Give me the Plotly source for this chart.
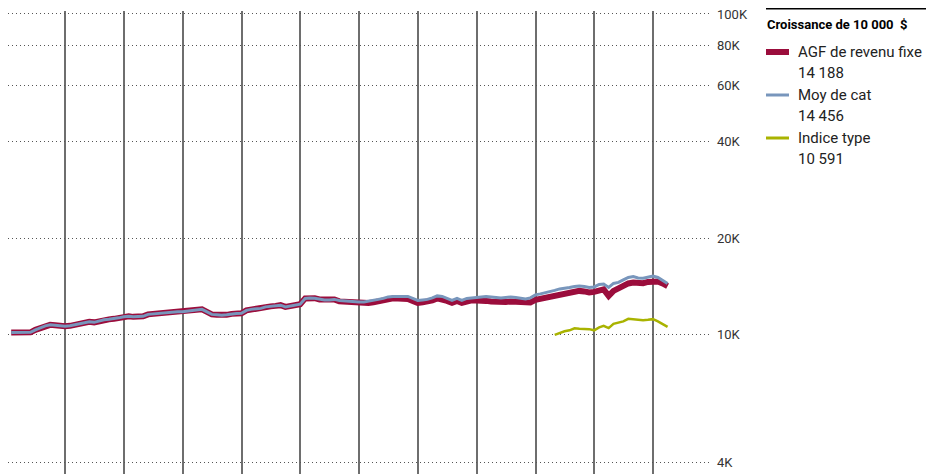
import plotly.graph_objects as go
import pandas as pd

# Fin de mois, janv. 2013 -> mars 2024
dates = pd.date_range("2013-01-31", periods=135, freq="ME")

agf = [
    10166, 10166, 10144, 10144, 10181, 10365, 10514, 10666, 10742, 10704,
    10628, 10628, 10666, 10742, 10820, 10897, 10976, 10936, 11055, 11134,
    11174, 11214, 11295, 11376, 11417, 11376, 11376, 11417, 11581, 11623,
    11665, 11707, 11749, 11749, 11791, 11791, 11833, 11876, 11918, 12004,
    11791, 11581, 11540, 11499, 11540, 11623, 11648, 11665, 11918, 12004,
    12047, 12090, 12221, 12265, 12309, 12371, 12221, 12309, 12397, 12459,
    12987, 13034, 13006, 12895, 12849, 12849, 12895, 12711, 12666, 12621,
    12576, 12576, 12576, 12576, 12621, 12711, 12803, 12941, 12987, 12987,
    12987, 12941, 12757, 12576, 12621, 12666, 12803, 12987, 12941, 12757,
    12576, 12757, 12576, 12757, 12803, 12803, 12711, 12757, 12711, 12666,
    12621, 12666, 12711, 12666, 12621, 12531, 12621, 12849, 12941, 13034,
    13128, 13270, 13413, 13461, 13558, 13656, 13705, 13656, 13558, 13607,
    13803, 13852, 13222, 13705, 13952, 14204, 14461, 14544, 14513, 14482,
    14617, 14722, 14670, 14461, 14188,
]

moy_cat = [
    10166, 10166, 10144, 10144, 10181, 10365, 10514, 10666, 10742, 10704,
    10628, 10628, 10666, 10742, 10820, 10897, 10976, 10936, 11055, 11134,
    11174, 11214, 11295, 11376, 11417, 11376, 11376, 11417, 11581, 11623,
    11665, 11707, 11749, 11749, 11791, 11791, 11833, 11876, 11918, 12004,
    11791, 11581, 11540, 11499, 11540, 11623, 11648, 11665, 11918, 12004,
    12047, 12090, 12221, 12265, 12309, 12371, 12221, 12309, 12397, 12459,
    12987, 13034, 13006, 12895, 12849, 12849, 12895, 12803, 12757, 12711,
    12666, 12666, 12666, 12757, 12803, 12895, 12987, 13128, 13175, 13175,
    13175, 13175, 12987, 12803, 12849, 12895, 13034, 13222, 13175, 12987,
    12803, 12987, 12803, 12987, 13034, 13034, 13128, 13175, 13128, 13081,
    13034, 13081, 13128, 13081, 13034, 12941, 13034, 13318, 13413, 13510,
    13607, 13754, 13902, 13952, 14052, 14153, 14204, 14153, 14052, 14103,
    14357, 14409, 14052, 14461, 14565, 14828, 15096, 15182, 15042, 15010,
    15150, 15259, 15096, 14775, 14456,
]

# Indice type : depuis avril 2022
indice_start = 111
indice = [
    10000, 10144, 10254, 10328, 10477, 10439, 10417, 10417, 10328, 10552,
    10666, 10492, 10820, 10936, 11016, 11214, 11174, 11110, 11110, 11134,
    11190, 11016, 10820, 10591,
]

series_names = ["AGF de revenu fixe", "Moy de cat", "Indice type"]
series_last = ["14 188", "14 456", "10 591"]
colors = ["#9B0D3C", "#7896BC", "#A9B300"]
widths = [6, 3, 2.5]

y_ticks = [4000, 10000, 20000, 40000, 60000, 80000, 100000]
y_labels = ["4K", "10K", "20K", "40K", "60K", "80K", "100K"]
year_lines = [f"{y}-01-01" for y in range(2014, 2025)]

FONT = "Roboto, Liberation Sans, sans-serif"

fig = go.Figure()
fig.add_trace(go.Scatter(x=dates, y=agf, mode="lines", name=series_names[0],
                         line=dict(color=colors[0], width=widths[0])))
fig.add_trace(go.Scatter(x=dates, y=moy_cat, mode="lines", name=series_names[1],
                         line=dict(color=colors[1], width=widths[1])))
fig.add_trace(go.Scatter(x=dates[indice_start:], y=indice, mode="lines", name=series_names[2],
                         line=dict(color=colors[2], width=widths[2])))

# la page a une marge de 8 px : figure 931x466, zone de tracé 0->704 / 3->466
W, HH = 931, 466
L, R, T, B = 0, 704, 3, 466
OFF = 8


def px(x):
    return (x - OFF - L) / (R - L)


def py(y):
    return (B - (y - OFF)) / (B - T)


shapes = [dict(type="line", xref="paper", yref="paper", x0=px(766), x1=px(926),
               y0=py(8.8), y1=py(8.8), line=dict(color="#000", width=1.5))]
annotations = [dict(xref="paper", yref="paper", x=px(765), y=py(25), xanchor="left",
                    yanchor="middle", showarrow=False,
                    text="<b>Croissance de 10 000  $</b>",
                    font=dict(family=FONT, size=13, color="#000"))]
for i, (nm, last) in enumerate(zip(series_names, series_last)):
    yc = 52 + i * 43
    shapes.append(dict(type="line", xref="paper", yref="paper", x0=px(766), x1=px(789),
                       y0=py(yc), y1=py(yc),
                       line=dict(color=colors[i], width=6 if i == 0 else 3)))
    annotations.append(dict(xref="paper", yref="paper", x=px(796), y=py(yc), xanchor="left",
                            yanchor="middle", showarrow=False, text=nm,
                            font=dict(family=FONT, size=15, color="#222")))
    annotations.append(dict(xref="paper", yref="paper", x=px(796), y=py(yc + 21), xanchor="left",
                            yanchor="middle", showarrow=False, text=last,
                            font=dict(family=FONT, size=15, color="#222")))

fig.update_layout(
    width=W, height=HH,
    margin=dict(l=L, r=W - R, t=T, b=HH - B),
    plot_bgcolor="white", paper_bgcolor="white",
    showlegend=False,
    font=dict(family=FONT, size=13, color="#333"),
    shapes=shapes, annotations=annotations,
    xaxis=dict(type="date", range=["2013-01-11", "2025-01-01"], tickvals=year_lines,
               showticklabels=False, showgrid=True, gridcolor="#6e6e6e", gridwidth=1.5,
               zeroline=False, showline=False, ticks=""),
    yaxis=dict(type="log", range=[3.5662, 5.0093], side="right", tickvals=y_ticks,
               ticktext=y_labels, showgrid=True, gridcolor="#555", gridwidth=1,
               griddash="1px,3px", zeroline=False, showline=False, ticks="",
               ticklabeloverflow="allow", ticklabelstandoff=4,
               tickfont=dict(family=FONT, size=13, color="#333")),
)

fig.write_html("out.html")
